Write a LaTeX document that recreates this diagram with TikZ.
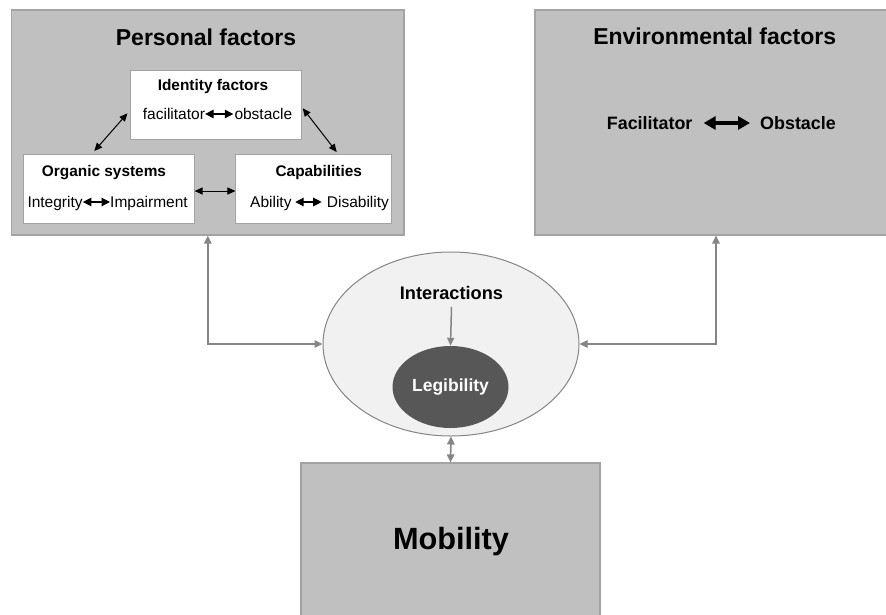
\documentclass[tikz,border=0pt]{standalone}
\usepackage{fontspec}
\setmainfont{Liberation Sans}
\usetikzlibrary{arrows.meta,shapes.geometric}
\definecolor{boxgray}{HTML}{C0C0C0}
\definecolor{boxedge}{HTML}{A3A3A3}
\definecolor{linkgray}{HTML}{858585}
\definecolor{ellfill}{HTML}{F1F1F1}
\definecolor{legfill}{HTML}{575757}
\begin{document}
\begin{tikzpicture}[x=1pt,y=-1pt,
  bigbox/.style={draw=boxedge,line width=1.2pt,fill=boxgray,rectangle,inner sep=0pt},
  subbox/.style={draw=boxedge,line width=1pt,fill=white,rectangle,inner sep=0pt},
  bigtitle/.style={font=\bfseries\fontsize{23}{27}\selectfont,anchor=base,inner sep=0pt},
  subtitle/.style={font=\bfseries\fontsize{15.4}{18}\selectfont,anchor=base,inner sep=0pt},
  subtext/.style={font=\fontsize{15.5}{18}\selectfont,anchor=base west,inner sep=0pt},
  smallarrow/.style={line width=1.2pt,{Triangle[length=8.5pt,width=8.5pt]}-{Triangle[length=8.5pt,width=8.5pt]}},
  innerlink/.style={line width=1pt,{Triangle[length=8pt,width=7pt]}-{Triangle[length=8pt,width=7pt]}},
  graylink/.style={draw=linkgray,line width=1.6pt,{Triangle[length=8pt,width=7.5pt]}-{Triangle[length=8pt,width=7.5pt]}},
]
\useasboundingbox (0,0) rectangle (886,614);
\clip (0,0) rectangle (886,614);
\fill[white] (0,0) rectangle (886,614);

% outer grey blocks
\node[bigbox,minimum width=392.3pt,minimum height=225pt] (pers) at (207.8,122.5) {};
\node[bigbox,minimum width=362pt,minimum height=225pt] (env) at (716,122.5) {};
\node[bigbox,minimum width=299pt,minimum height=170pt] (mob) at (450.5,548) {};

\node[bigtitle] (perst) at (206,45) {Personal factors};
\node[bigtitle] (envt) at (714.7,44.5) {Environmental factors};
\node[bigtitle,font=\bfseries\fontsize{30.7}{36}\selectfont] (mobt) at (451,549) {Mobility};

% environmental scale
\node[anchor=base west,inner sep=0pt,font=\bfseries\fontsize{17.9}{21}\selectfont] (efac) at (606.7,129) {Facilitator};
\node[anchor=base west,inner sep=0pt,font=\bfseries\fontsize{17.9}{21}\selectfont] (eobs) at (760,129) {Obstacle};
\draw[line width=3.6pt,{Triangle[length=12pt,width=13pt]}-{Triangle[length=12pt,width=13pt]}]
  ([xshift=11pt,yshift=6pt]efac.base east) -- ([xshift=-10pt,yshift=6pt]eobs.base west);

% personal sub-blocks
\node[subbox,minimum width=170.7pt,minimum height=69.3pt] (idf) at (216.3,105.3) {};
\node[subbox,minimum width=170.7pt,minimum height=69.3pt] (org) at (108.7,188.7) {};
\node[subbox,minimum width=155.7pt,minimum height=69.3pt] (cap) at (313.8,188.7) {};

\node[subtitle] (idft) at (213,90) {Identity factors};
\node[subtext] (ifac) at (142.7,119) {facilitator};
\node[subtext] (iobs) at (234.3,119) {obstacle};
\draw[smallarrow] ([yshift=5pt]ifac.base east) -- ([xshift=-1pt,yshift=5pt]iobs.base west);

\node[subtitle] (orgt) at (104,176) {Organic systems};
\node[subtext] (oint) at (27.3,207) {Integrity};
\node[subtext] (oimp) at (110,207) {Impairment};
\draw[smallarrow] ([yshift=5pt]oint.base east) -- ([yshift=5pt]oimp.base west);

\node[subtitle] (capt) at (318.8,176) {Capabilities};
\node[subtext] (cabl) at (250,207) {Ability};
\node[subtext] (cdis) at (326.7,207) {Disability};
\draw[smallarrow] ([xshift=3.5pt,yshift=5pt]cabl.base east) -- ([xshift=-5pt,yshift=5pt]cdis.base west);

% links between the personal sub-blocks
\draw[innerlink] ([shift={(-3pt,-8pt)}]idf.west) -- ([shift={(-14.4pt,2.5pt)}]org.north);
\draw[innerlink] ([shift={(0.6pt,-3pt)}]idf.east) -- ([shift={(22.9pt,1.5pt)}]cap.north);
\draw[innerlink] ([yshift=-2.3pt]org.east) -- ([yshift=-2.3pt]cap.west);

% interaction ellipse
\node[ellipse,draw=linkgray,line width=1pt,fill=ellfill,minimum width=256pt,minimum height=184pt,inner sep=0pt] (ell) at (451,344) {};
\node[ellipse,fill=legfill,minimum width=116pt,minimum height=82pt,inner sep=0pt,
      text=white,font=\bfseries\fontsize{17.5}{21}\selectfont] (leg) at (450.5,387) {Legibility};
\node[font=\bfseries\fontsize{18.2}{22}\selectfont,inner sep=0pt,anchor=base] (inter) at (451.5,299.6) {Interactions};
\draw[draw=linkgray,line width=1.5pt,-{Triangle[length=8pt,width=7pt]}] ([yshift=-7pt]inter.south) -- (leg.north);

% grey connectors
\draw[graylink] (pers.south) |- (ell.west);
\draw[graylink] (env.south) |- (ell.east);
\draw[graylink] (ell.south) -- (mob.north);
\end{tikzpicture}
\end{document}
